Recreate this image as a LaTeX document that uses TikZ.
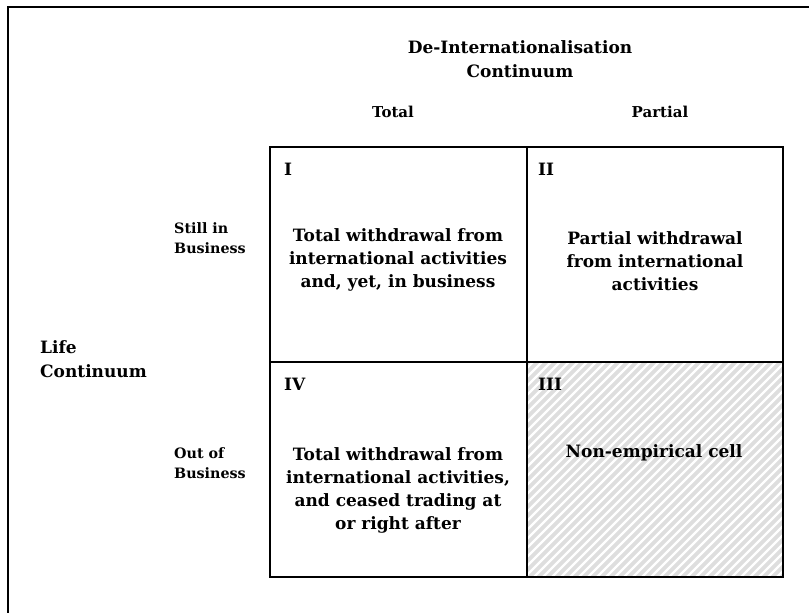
\documentclass[tikz,border=0pt]{standalone}
\usepackage{fontspec}
\setmainfont{DejaVu Serif}
\begin{document}
\begin{tikzpicture}[x=1pt,y=-1pt,
  frame/.style={line width=1.5pt},
  gridline/.style={line width=2pt},
  bigtxt/.style={align=center, font=\fontsize{17}{23}\selectfont\bfseries, inner sep=0pt},
  colhead/.style={font=\fontsize{15}{20}\selectfont\bfseries, inner sep=0pt},
  rowlabel/.style={align=left, anchor=west, font=\fontsize{14.3}{20}\selectfont\bfseries, inner sep=0pt},
  numtxt/.style={anchor=west, font=\fontsize{17}{20}\selectfont\bfseries, inner sep=0pt},
  hatchbg/.style={fill=black!13},
  hatchln/.style={white, line width=2.2pt}
]
\useasboundingbox (0,0) rectangle (809,613);
\fill[white] (0,0) rectangle (809,613);
% outer frame (only left and top edges visible)
\draw[frame] (8,613) -- (8,7) -- (809,7);

% hatched cell III
\begin{scope}
  \clip (526,362) rectangle (783,577);
  \fill[hatchbg] (526,362) rectangle (783,577);
  \foreach \i in {300,309,...,800}
    \draw[hatchln] (\i,577) -- ++(230,-230);
\end{scope}

% grid
\draw[gridline] (270,147) rectangle (783,577);
\draw[gridline] (526.5,147) -- (526.5,577);
\draw[gridline] (270,362) -- (783,362);

% headers
\node[bigtxt, font=\fontsize{17}{24}\selectfont\bfseries] (deint) at (520,59) {De-Internationalisation\\Continuum};
\node[colhead] (total) at (393,112) {Total};
\node[colhead] (partial) at (660,112) {Partial};

% row labels
\node[rowlabel] (still) at (174,238) {Still in\\Business};
\node[rowlabel] (outof) at (174,463) {Out of\\Business};
\node[bigtxt, align=left, anchor=west, font=\fontsize{17}{24}\selectfont\bfseries] (life) at (40,359) {Life\\Continuum};

% cell numerals
\node[numtxt] (n1) at (284,169) {I};
\node[numtxt] (n2) at (538,169) {II};
\node[numtxt] (n4) at (284,384) {IV};
\node[numtxt] (n3) at (538,384) {III};

% cell texts
\node[bigtxt] (c1) at (398,260) {Total withdrawal from\\international activities\\and, yet, in business};
\node[bigtxt] (c2) at (655,261) {Partial withdrawal\\from international\\activities};
\node[bigtxt] (c4) at (398,490) {Total withdrawal from\\international activities,\\and ceased trading at\\or right after};
\node[bigtxt] (c3) at (654,453) {Non-empirical cell};
\end{tikzpicture}
\end{document}
